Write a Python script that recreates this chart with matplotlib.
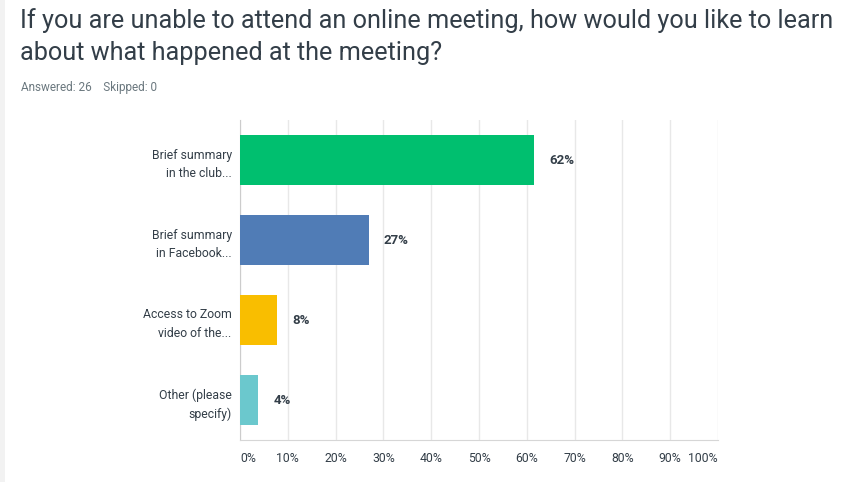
import matplotlib
matplotlib.use("Agg")
import matplotlib.pyplot as plt
from matplotlib.patches import Rectangle

categories = ["Brief summary\nin the club...", "Brief summary\nin Facebook...",
              "Access to Zoom\nvideo of the...", "Other (please\nspecify)"]
values = [61.54, 26.92, 7.69, 3.85]
value_labels = ["62%", "27%", "8%", "4%"]
colors = ["#00BF6F", "#507CB6", "#F9BE00", "#6BC8CD"]
xticks = [0, 10, 20, 30, 40, 50, 60, 70, 80, 90, 100]
xtick_labels = ["0%", "10%", "20%", "30%", "40%", "50%", "60%", "70%", "80%", "90%", "100%"]

title = "If you are unable to attend an online meeting, how would you like to learn\nabout what happened at the meeting?"
subtitle = "Answered: 26    Skipped: 0"

W, H = 859, 482
fig = plt.figure(figsize=(W / 100, H / 100), dpi=100)
fig.patch.set_facecolor("white")
fig.add_artist(Rectangle((0, 0), 5 / W, 1, transform=fig.transFigure,
                         facecolor="#f2f2f2", edgecolor="none"))

ax = fig.add_axes([240 / W, 1 - 440 / H, (718 - 240) / W, (440 - 120) / H])
ypos = list(range(len(categories)))
ax.barh(ypos, values, height=0.625, color=colors, zorder=3)
ax.set_ylim(len(categories) - 0.5, -0.5)
ax.set_xlim(0, 100)
ax.set_yticks(ypos)
ax.set_yticklabels(categories, fontsize=8.8, color="#333e48", family="Roboto",
                   linespacing=1.55)
ax.tick_params(axis="y", length=0, pad=6)
ax.set_xticks(xticks)
ax.set_xticklabels(xtick_labels, fontsize=8.8, color="#333e48", family="Roboto")
ax.tick_params(axis="x", length=0, pad=9)
labs = ax.get_xticklabels()
labs[0].set_horizontalalignment("left")
labs[-1].set_horizontalalignment("right")
ax.grid(axis="x", color="#e8e8e8", linewidth=1, zorder=0)
for s in ["top", "right"]:
    ax.spines[s].set_visible(False)
ax.spines["left"].set_color("#cccccc")
ax.spines["bottom"].set_color("#d6d6d6")

for y, v, lab in zip(ypos, values, value_labels):
    ax.annotate(lab, (v, y), xytext=(11, 0), textcoords="offset points",
                va="center", ha="left", fontsize=9.5, fontweight="bold",
                color="#333e48", family="Roboto")

fig.text(20 / W, 1 - 8 / H, title, ha="left", va="top", fontsize=18.2,
         color="#333e48", family="Roboto", linespacing=1.4)
fig.text(21 / W, 1 - 88 / H, subtitle, ha="left", va="center", fontsize=8.5,
         color="#6b787f", family="Roboto")

fig.savefig("out.png", dpi=100, facecolor="white")
